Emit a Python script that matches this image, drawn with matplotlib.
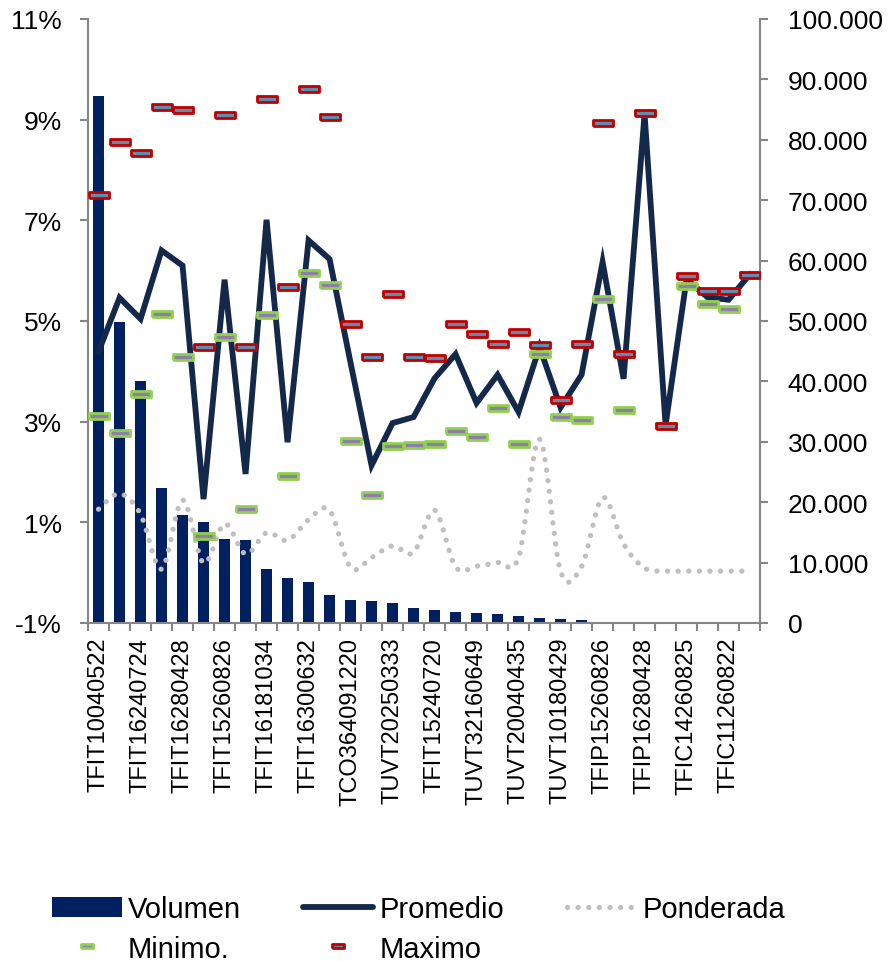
import matplotlib
matplotlib.use('Agg')
import matplotlib.pyplot as plt
from matplotlib.path import Path
from matplotlib.patches import PathPatch
from matplotlib.lines import Line2D
from matplotlib.ticker import FuncFormatter
import numpy as np

plt.rcParams['font.family'] = ['Liberation Sans', 'DejaVu Sans']

# etiquetas visibles (una de cada dos categorias)
etiquetas = ['TFIT10040522', 'TFIT16240724', 'TFIT16280428', 'TFIT15260826',
             'TFIT16181034', 'TFIT16300632', 'TCO364091220', 'TUVT20250333',
             'TFIT15240720', 'TUVT32160649', 'TUVT20040435', 'TUVT10180429',
             'TFIP15260826', 'TFIP16280428', 'TFIC14260825', 'TFIC11260822']

volumen = [87300, 49900, 40000, 22400, 17800, 16700, 13900, 13700, 8900, 7450,
           6700, 4700, 3750, 3600, 3300, 2500, 2100, 1800, 1700, 1550,
           1200, 800, 650, 550, 0, 0, 0, 0, 0, 0, 0, 0]

promedio = [4.39, 5.46, 5.04, 6.40, 6.10, 1.46, 5.82, 1.96, 7.01, 2.59,
            6.60, 6.23, 4.17, 2.13, 2.97, 3.09, 3.86, 4.34, 3.37, 3.93,
            3.19, 4.48, 3.28, 3.93, 6.17, 3.85, 9.11, 2.93, 5.83, 5.47,
            5.42, 5.92]

ponderada = [1.26, 1.57, 1.16, 0.07, 1.44, 0.19, 0.97, 0.37, 0.79, 0.64,
             1.05, 1.24, 0.10, 0.30, 0.53, 0.40, 1.24, 0.11, 0.13, 0.20,
             0.30, 2.65, 0.03, 0.12, 1.49, 0.57, 0.09, 0.03, 0.03, 0.03,
             0.03, 0.03]

minimo = [3.11, 2.78, 3.54, 5.14, 4.29, 0.73, 4.68, 1.26, 5.12, 1.91,
          5.95, 5.71, 2.62, 1.55, 2.51, 2.54, 2.56, 2.81, 2.69, 3.28,
          2.55, 4.34, 3.09, 3.04, 5.44, 3.24, 9.14, 2.91, 5.70, 5.33,
          5.24, 5.92]

maximo = [7.51, 8.55, 8.34, 9.25, 9.20, 4.49, 9.10, 4.49, 9.40, 5.67,
          9.61, 9.05, 4.93, 4.29, 5.53, 4.29, 4.26, 4.94, 4.74, 4.54,
          4.79, 4.52, 3.42, 4.54, 8.94, 4.34, 9.14, 2.91, 5.89, 5.59,
          5.60, 5.92]

n = len(volumen)
x = np.arange(n)
gris = '#868686'

fig = plt.figure(figsize=(8.92, 9.62), dpi=100)
ax = fig.add_axes([0.0987, 0.3514, 0.7534, 0.6279])
ax2 = ax.twinx()

# barras de volumen (eje derecho)
barras = ax.bar(x, volumen, width=0.55, color='#002060', zorder=1)
ax.set_ylim(0, 100000)
ax.set_yticks(np.arange(0, 100001, 10000))
ax.yaxis.set_major_formatter(FuncFormatter(lambda v, p: f"{int(v):,}".replace(',', '.')))
ax.yaxis.tick_right()
ax.set_xlim(-0.5, n - 0.5)

# tasas (eje izquierdo)
ax2.yaxis.tick_left()
ax2.set_ylim(-1, 11)
ax2.set_yticks([-1, 1, 3, 5, 7, 9, 11])
ax2.yaxis.set_major_formatter(FuncFormatter(lambda v, p: f"{v:.0f}%"))

# ponderada: curva suavizada como en Excel (bezier entre los puntos)
pts = np.column_stack([x, ponderada])
ext = np.vstack([pts[0], pts, pts[-1]])
verts = [tuple(pts[0])]
codes = [Path.MOVETO]
for i in range(n - 1):
    p0, p1, p2, p3 = ext[i], ext[i + 1], ext[i + 2], ext[i + 3]
    verts += [tuple(p1 + (p2 - p0) / 6), tuple(p2 - (p3 - p1) / 6), tuple(p2)]
    codes += [Path.CURVE4] * 3
curva = PathPatch(Path(verts, codes), fill=False, edgecolor='#BFBFBF', lw=3.8,
                  linestyle=(0, (0.01, 2.0)), capstyle='round', zorder=2)
ax2.add_patch(curva)

ax2.plot(x, promedio, color='#14294A', lw=4.2, solid_joinstyle='miter', zorder=3)

rect = [(-1, -0.3), (1, -0.3), (1, 0.3), (-1, 0.3), (-1, -0.3)]
estilo_min = dict(ls='none', marker=rect, markersize=14.5, markerfacecolor='#8C7FA8',
                  markeredgecolor='#92D050', markeredgewidth=2.0)
estilo_max = dict(ls='none', marker=rect, markersize=14.5, markerfacecolor='#5E8DB0',
                  markeredgecolor='#C00000', markeredgewidth=2.0)
ax2.plot(x, minimo, zorder=4, **estilo_min)
ax2.plot(x, maximo, zorder=5, **estilo_max)

# ejes
ax.spines['top'].set_visible(False)
for s in ['left', 'right', 'bottom']:
    ax.spines[s].set_color(gris)
    ax.spines[s].set_linewidth(1.5)
for s in ax2.spines.values():
    s.set_visible(False)

ax.tick_params(axis='y', direction='out', length=6, width=1.5, color=gris,
               labelsize=19, pad=14)
ax2.tick_params(axis='y', direction='out', length=6, width=1.5, color=gris,
                labelsize=19, pad=13)

ax.set_xticks(x[::2])
ax.set_xticklabels(etiquetas, rotation=90, fontsize=17)
ax.set_xticks(np.arange(-0.5, n), minor=True)
ax.tick_params(axis='x', which='major', length=0, pad=10)
ax.tick_params(axis='x', which='minor', length=6, width=1.5, color=gris)

# leyenda
h_prom = Line2D([], [], color='#14294A', lw=4.2, solid_capstyle='round')
h_pond = Line2D([], [], color='#BFBFBF', lw=3.8, linestyle=(0, (0.01, 2.0)),
                dash_capstyle='round')
h_min = Line2D([], [], **estilo_min)
h_max = Line2D([], [], **estilo_max)

fig.legend([barras, h_min, h_prom, h_max, h_pond],
           ['Volumen', 'Minimo.', 'Promedio', 'Maximo', 'Ponderada'],
           ncol=3, loc='center left', bbox_to_anchor=(0.058, 0.0335), frameon=False,
           fontsize=21, handlelength=2.4, handletextpad=0.2, columnspacing=2.15,
           labelspacing=0.4, borderpad=0, borderaxespad=0, markerscale=0.55)

fig.savefig('out.png', dpi=100)
